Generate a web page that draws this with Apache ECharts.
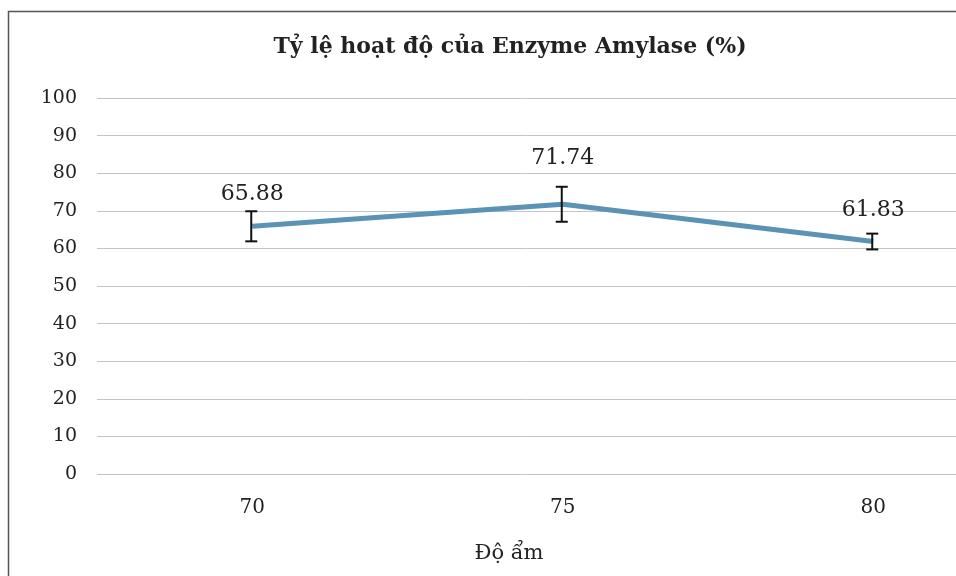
<!DOCTYPE html>
<html>
<head>
<meta charset="utf-8">
<script src="https://cdn.jsdelivr.net/npm/echarts@6/dist/echarts.min.js"></script>
<style>html,body{margin:0;padding:0;background:#fff}#c{width:956px;height:576px}</style>
</head>
<body>
<div id="c"></div>
<script>
const categories = ['70', '75', '80'];
const activity = [65.88, 71.74, 61.83];
const errors = [4.0, 4.65, 2.1];
const yTicks = [0, 10, 20, 30, 40, 50, 60, 70, 80, 90, 100];
const titleText = 'Tỷ lệ hoạt độ của Enzyme Amylase (%)';
const xName = 'Độ ẩm';

const FONT = '"DejaVu Serif", "Liberation Serif", serif';
const labelLift = [21, 34, 20];
// plot area in the source extends past the right edge of the picture:
// each category slot is ~310.5px wide, starting at x=97
const GRID_LEFT = 97, SLOT = 310.5, VIEW_W = 956;
const xMin = -0.5;
const xMax = xMin + (VIEW_W - GRID_LEFT) / SLOT;

const chart = echarts.init(document.getElementById('c'));
const option = {
  animation: false,
  backgroundColor: '#fff',
  grid: { left: GRID_LEFT, right: 0, top: 98, bottom: 102, containLabel: false },
  xAxis: {
    type: 'value',
    min: xMin,
    max: xMax,
    splitLine: { show: false },
    axisLine: { show: false },
    axisTick: { show: false },
    axisLabel: {
      customValues: categories.map((c, i) => i),
      formatter: v => categories[Math.round(v)],
      margin: 24, fontSize: 20, color: '#222', fontFamily: FONT
    }
  },
  yAxis: {
    type: 'value',
    min: yTicks[0],
    max: yTicks[yTicks.length - 1],
    interval: 10,
    axisLine: { show: false },
    axisTick: { show: false },
    axisLabel: { margin: 20, fontSize: 19, color: '#222', fontFamily: FONT },
    splitLine: { lineStyle: { color: '#c4c4c4', width: 1 } }
  },
  graphic: [
    { type: 'rect', shape: { x: 8.5, y: 11.5, width: 1200, height: 800 }, style: { fill: 'none', stroke: '#555', lineWidth: 1.5 }, silent: true },
    { type: 'text', x: 510, y: 47, style: { text: titleText, fontFamily: FONT, fontSize: 22, fontWeight: 'bold', fill: '#222', textAlign: 'center', textVerticalAlign: 'middle' } },
    { type: 'text', x: 509, y: 554, style: { text: xName, fontFamily: FONT, fontSize: 21, fill: '#222', textAlign: 'center', textVerticalAlign: 'middle' } }
  ],
  series: [
    {
      type: 'line',
      data: activity.map((v, i) => ({ value: [i, v], label: { distance: labelLift[i] } })),
      symbol: 'circle',
      symbolSize: 1,
      showSymbol: true,
      itemStyle: { color: 'rgba(0,0,0,0)' },
      lineStyle: { color: '#5a93b6', width: 5 },
      label: { show: true, position: 'top', fontSize: 22, color: '#222', fontFamily: FONT, formatter: p => p.value[1].toFixed(2) },
      z: 3
    },
    {
      type: 'custom',
      data: activity.map((v, i) => [i, v - errors[i], v + errors[i]]),
      renderItem: function (params, api) {
        const lo = api.coord([api.value(0), api.value(1)]);
        const hi = api.coord([api.value(0), api.value(2)]);
        const x = lo[0] - 1, hw = 6;
        const st = { stroke: '#111', lineWidth: 2 };
        return {
          type: 'group',
          children: [
            { type: 'line', shape: { x1: x, y1: hi[1], x2: x, y2: lo[1] }, style: st },
            { type: 'line', shape: { x1: x - hw, y1: hi[1], x2: x + hw, y2: hi[1] }, style: st },
            { type: 'line', shape: { x1: x - hw, y1: lo[1], x2: x + hw, y2: lo[1] }, style: st }
          ]
        };
      },
      z: 4
    }
  ]
};
chart.setOption(option);
</script>
</body>
</html>
